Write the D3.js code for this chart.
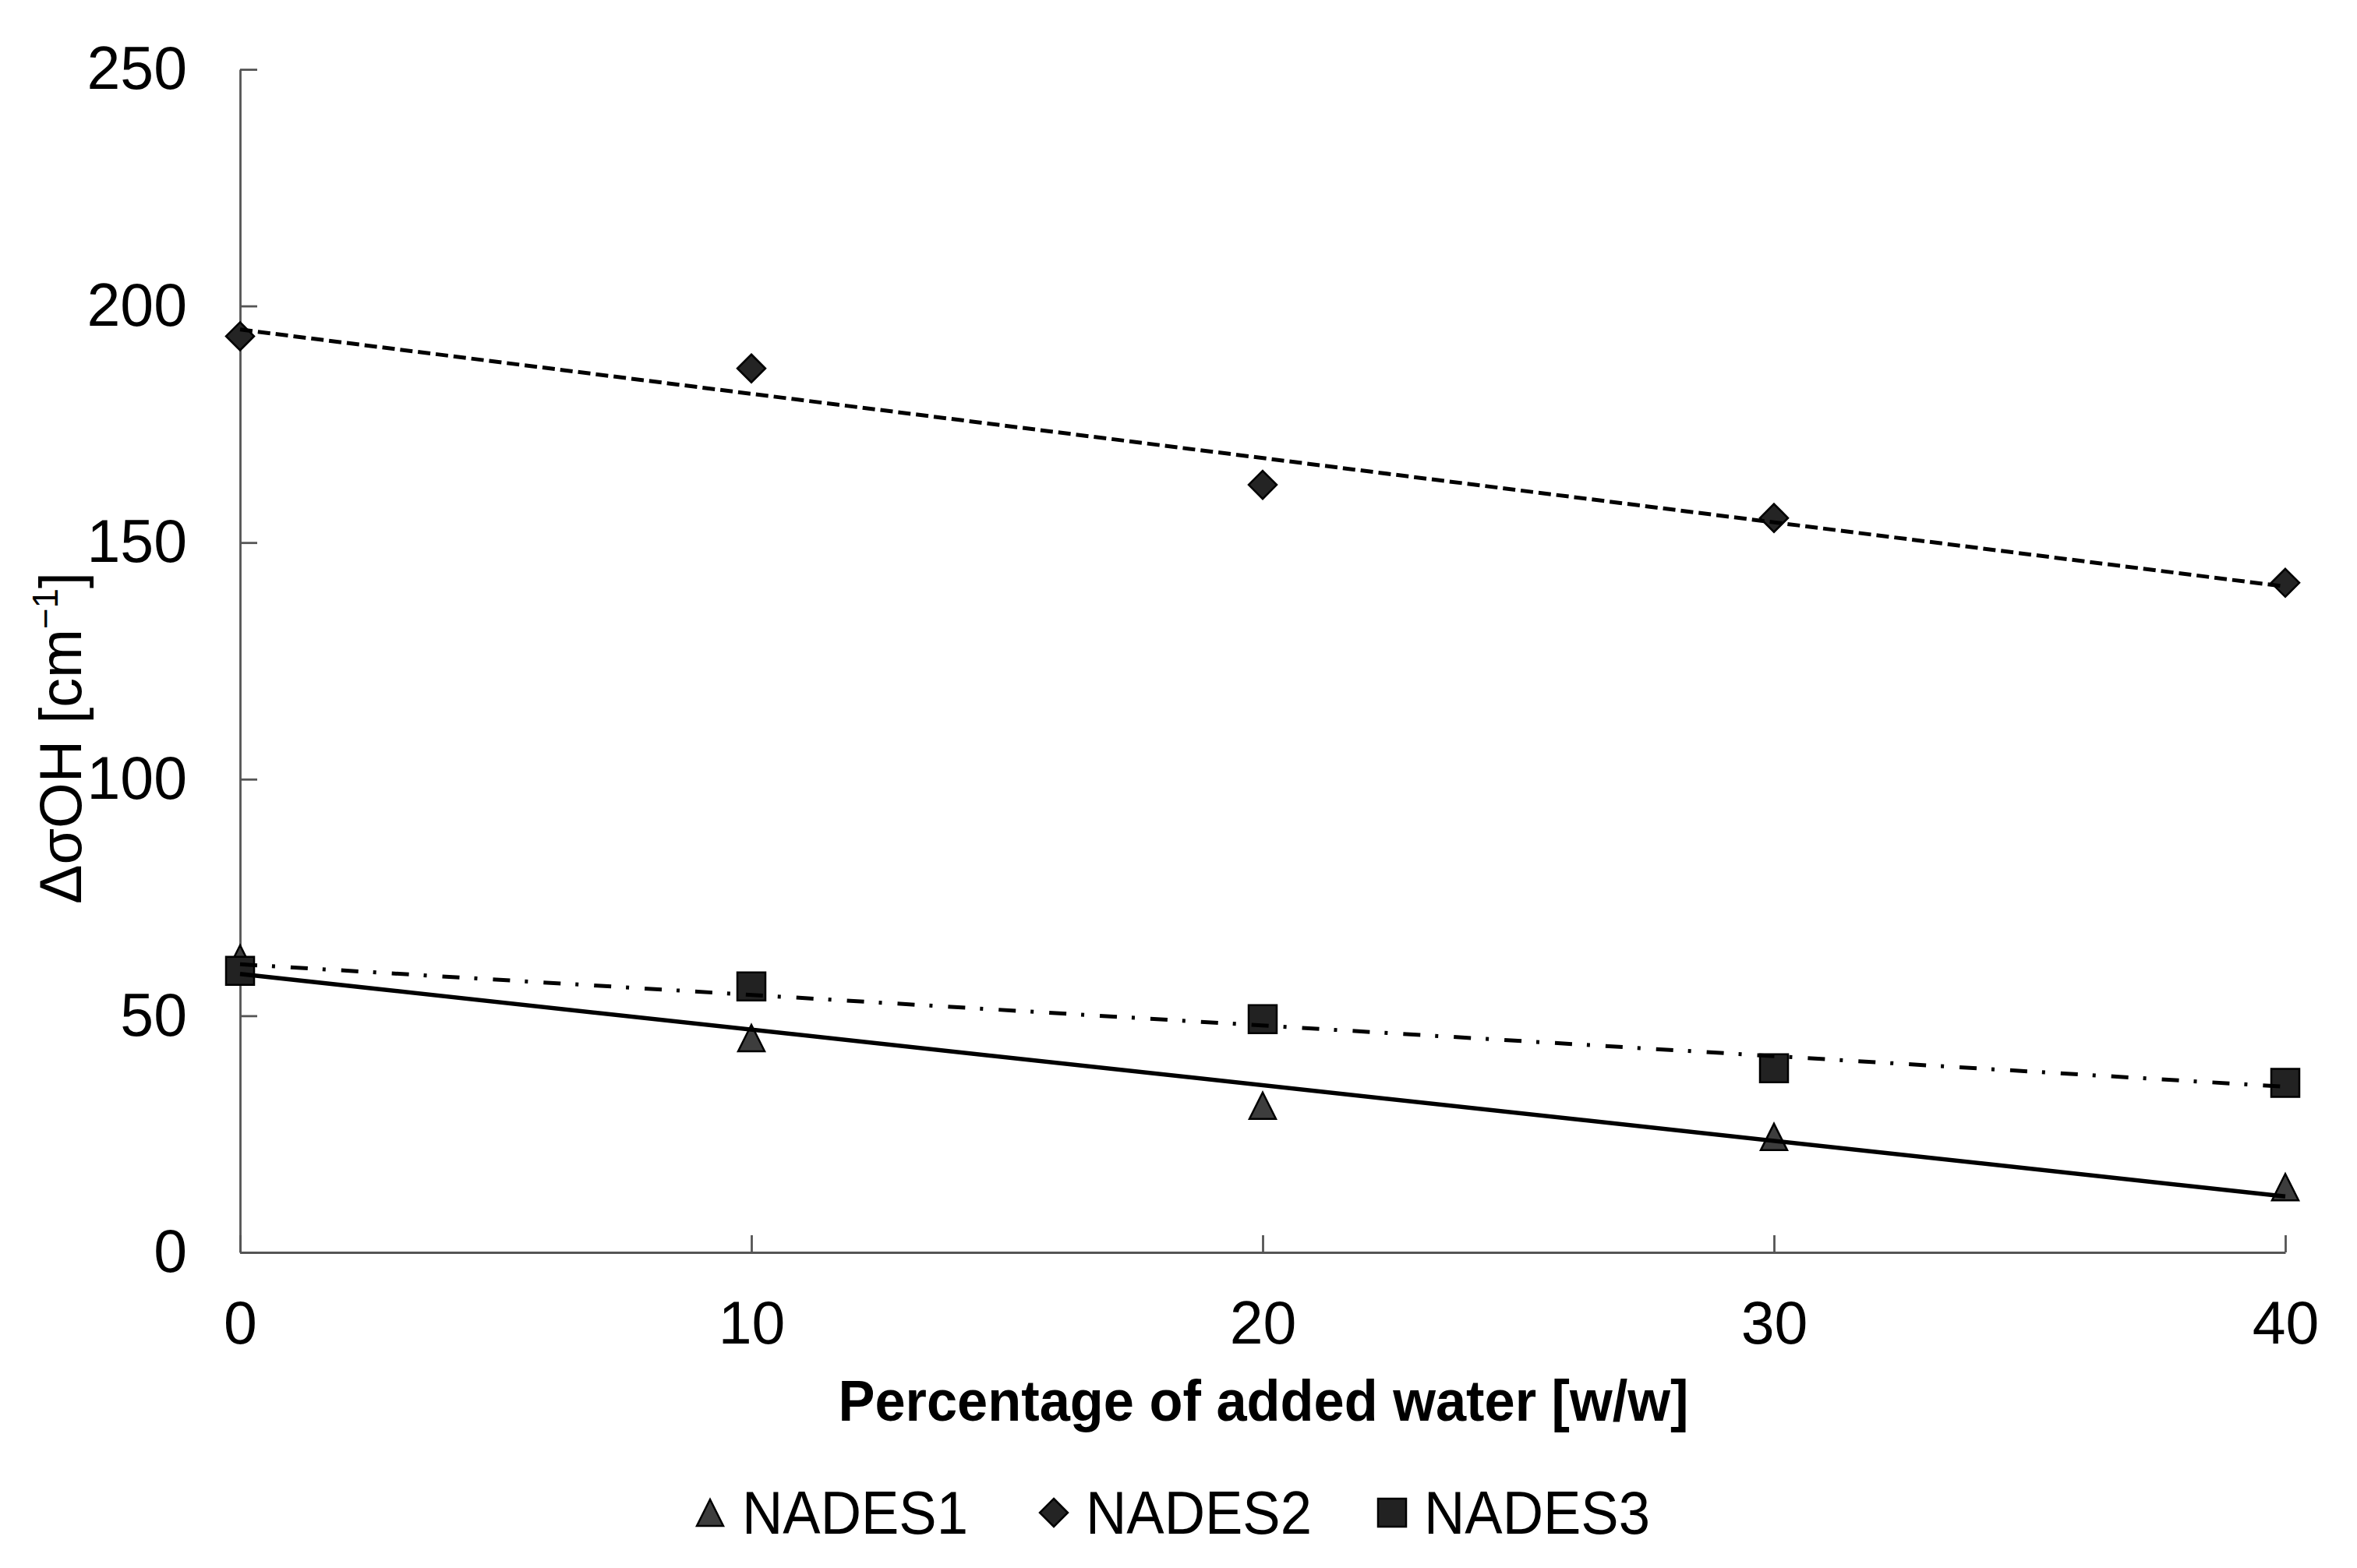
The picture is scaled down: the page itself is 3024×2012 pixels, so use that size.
<!DOCTYPE html>
<html>
<meta charset="utf-8">
<style>
  body { margin: 0; background: #fff; }
  svg { display: block; }
  text { font-family: "Liberation Sans", Arial, sans-serif; fill: #000; }
</style>
<body>
  <svg width="3024" height="2012"></svg>
</body>
<script src="https://d3js.org/d3.v7.min.js"></script>
<script>

  // data
  var water = [0, 10, 20, 30, 40];
  var nades1 = [62.1, 45.3, 31.0, 24.4, 13.8];
  var nades2 = [193.6, 186.8, 162.2, 155.2, 141.5];
  var nades3 = [59.5, 56.2, 49.3, 38.9, 35.8];
  var seriesNames = ["NADES1", "NADES2", "NADES3"];
  var xTicks = [0, 10, 20, 30, 40];
  var yTicks = [0, 50, 100, 150, 200, 250];

  var svg = d3.select("svg");

  var xScale = d3.scaleLinear().domain([0, 40]).range([308, 2932]);
  var yScale = d3.scaleLinear().domain([0, 250]).range([1607, 89]);

  // marker shapes
  var triangle = {
    draw: function(ctx, size) {
      var w = 34, h = 34;
      ctx.moveTo(0, -h / 2);
      ctx.lineTo(w / 2, h / 2);
      ctx.lineTo(-w / 2, h / 2);
      ctx.closePath();
    }
  };
  var diamond = {
    draw: function(ctx, size) {
      var r = 18;
      ctx.moveTo(0, -r);
      ctx.lineTo(r, 0);
      ctx.lineTo(0, r);
      ctx.lineTo(-r, 0);
      ctx.closePath();
    }
  };
  var square = {
    draw: function(ctx, size) {
      var a = 18;
      ctx.rect(-a, -a, 2 * a, 2 * a);
    }
  };

  var series = [
    {name: seriesNames[0], values: nades1, shape: triangle, fill: "#3d3d3d", dash: null},
    {name: seriesNames[1], values: nades2, shape: diamond, fill: "#242424", dash: "16,7"},
    {name: seriesNames[2], values: nades3, shape: square, fill: "#222222", dash: "22,19,4,20"}
  ];

  // axes, ticks pointing inward
  var xAxis = d3.axisBottom(xScale).tickValues(xTicks).tickSizeInner(-22).tickSizeOuter(0).tickPadding(62);
  var yAxis = d3.axisLeft(yScale).tickValues(yTicks).tickSizeInner(-22).tickSizeOuter(0).tickPadding(68);

  var gx = svg.append("g").attr("transform", "translate(0," + yScale(0) + ")").call(xAxis);
  var gy = svg.append("g").attr("transform", "translate(" + xScale(0) + ",0)").call(yAxis);

  [gx, gy].forEach(function(g) {
    g.attr("font-family", null).attr("font-size", null);
    g.selectAll("path, line").attr("stroke", "#555").attr("stroke-width", 2.8);
    g.selectAll("text").attr("font-size", 77).attr("fill", "#000");
  });

  // markers
  series.forEach(function(s) {
    svg.append("g").selectAll("path")
      .data(s.values)
      .enter().append("path")
      .attr("d", d3.symbol().type(s.shape))
      .attr("transform", function(d, i) { return "translate(" + xScale(water[i]) + "," + yScale(d) + ")"; })
      .attr("fill", s.fill)
      .attr("stroke", "#000")
      .attr("stroke-width", 2.5);
  });

  // linear trendlines (least squares), drawn over the markers
  function fit(xs, ys) {
    var mx = d3.mean(xs), my = d3.mean(ys);
    var num = d3.sum(xs, function(x, i) { return (x - mx) * (ys[i] - my); });
    var den = d3.sum(xs, function(x) { return (x - mx) * (x - mx); });
    var b = num / den;
    return {a: my - b * mx, b: b};
  }

  var line = d3.line()
    .x(function(d) { return xScale(d[0]); })
    .y(function(d) { return yScale(d[1]); });

  series.forEach(function(s) {
    var f = fit(water, s.values);
    var ends = [0, 40].map(function(x) { return [x, f.a + f.b * x]; });
    svg.append("path")
      .attr("d", line(ends))
      .attr("fill", "none")
      .attr("stroke", "#000")
      .attr("stroke-width", s.dash ? 5 : 5.5)
      .attr("stroke-dasharray", s.dash);
  });

  // axis titles
  svg.append("text")
    .attr("x", 1621).attr("y", 1823)
    .attr("text-anchor", "middle")
    .attr("font-size", 74).attr("font-weight", "bold")
    .attr("textLength", 1091).attr("lengthAdjust", "spacingAndGlyphs")
    .text("Percentage of added water [w/w]");

  var yt = svg.append("text")
    .attr("transform", "translate(104,947) rotate(-90)")
    .attr("text-anchor", "middle")
    .attr("font-size", 76)
    .attr("textLength", 426).attr("lengthAdjust", "spacingAndGlyphs");
  yt.append("tspan").text("ΔσOH [cm");
  yt.append("tspan").attr("font-size", 46).attr("dy", -30).text("−1");
  yt.append("tspan").attr("dy", 30).text("]");

  // legend
  var legendX = [911, 1352, 1786];
  var legend = svg.append("g").selectAll("g")
    .data(series)
    .enter().append("g")
    .attr("transform", function(d, i) { return "translate(" + legendX[i] + ",1941)"; });

  legend.append("path")
    .attr("d", function(d) { return d3.symbol().type(d.shape)(); })
    .attr("fill", function(d) { return d.fill; })
    .attr("stroke", "#000")
    .attr("stroke-width", 2.5);

  legend.append("text")
    .attr("x", 41).attr("y", 27)
    .attr("font-size", 78)
    .attr("textLength", 290).attr("lengthAdjust", "spacingAndGlyphs")
    .text(function(d) { return d.name; });

</script>
</html>
